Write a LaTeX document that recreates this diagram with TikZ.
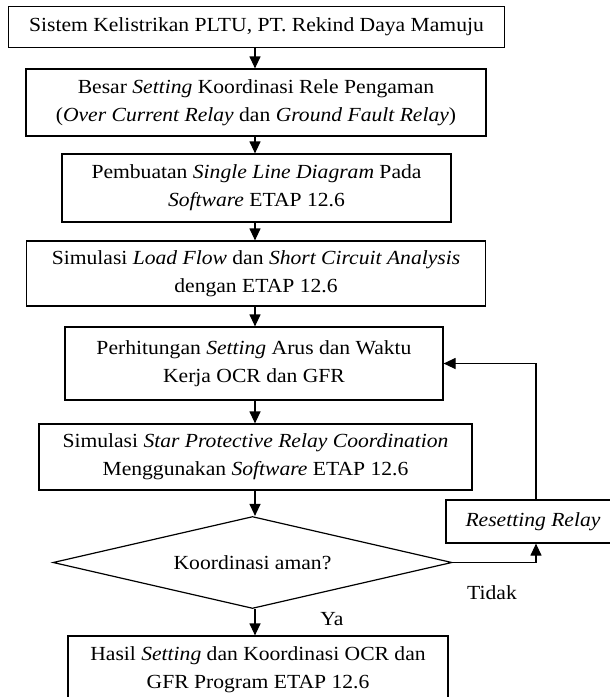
\documentclass[tikz,border=0pt]{standalone}
\usepackage{fontspec}
\setmainfont{Liberation Serif}[FakeStretch=1.08]
\usetikzlibrary{arrows.meta,shapes.geometric}
\tikzset{
  boxnode/.style={draw, line width=1.2pt, inner sep=0pt, align=center, font=\fontsize{20}{28}\selectfont},
  txt/.style={inner sep=0pt, font=\fontsize{20}{28}\selectfont},
  arr/.style={line width=1.2pt, -{Triangle[length=12pt,width=11pt]}},
  ln/.style={line width=1.2pt}
}
\begin{document}
\begin{tikzpicture}[x=1pt,y=-1pt]
\useasboundingbox (0,0) rectangle (610,697);
\clip (0,0) rectangle (610,697);
\node[boxnode, minimum width=496pt, minimum height=41pt] (b1) at (256.5,27.2) {Sistem Kelistrikan PLTU, PT. Rekind Daya Mamuju};
\node[boxnode, minimum width=460pt, minimum height=67pt] (b2) at (256,102.5) {Besar \textit{Setting} Koordinasi Rele Pengaman\\(\textit{Over Current Relay} dan \textit{Ground Fault Relay})};
\node[boxnode, minimum width=389pt, minimum height=68pt] (b3) at (256.5,188) {Pembuatan \textit{Single Line Diagram} Pada\\\textit{Software} ETAP 12.6};
\node[boxnode, minimum width=459pt, minimum height=65pt] (b4) at (256,273.5) {Simulasi \textit{Load Flow} dan \textit{Short Circuit Analysis}\\dengan ETAP 12.6};
\node[boxnode, minimum width=378pt, minimum height=73pt] (b5) at (254,363.5) {Perhitungan \textit{Setting} Arus dan Waktu\\Kerja OCR dan GFR};
\node[boxnode, minimum width=433pt, minimum height=66pt] (b6) at (255.5,457) {Simulasi \textit{Star Protective Relay Coordination}\\Menggunakan \textit{Software} ETAP 12.6};
\node[draw, line width=1.2pt, diamond, shape aspect=4.34, inner sep=0pt, minimum width=399pt, minimum height=92pt, font=\fontsize{20}{28}\selectfont] (d) at (252.5,562.5) {Koordinasi aman?};
\node[boxnode, minimum width=380pt, minimum height=67pt] (b7) at (258,669.5) {Hasil \textit{Setting} dan Koordinasi OCR dan\\GFR Program ETAP 12.6};
\node[boxnode, minimum width=174pt, minimum height=43pt] (rr) at (533,521.5) {\textit{Resetting Relay}};
\node[txt] (tidak) at (492,593) {Tidak};
\node[txt] (ya) at (332,619) {Ya};
\coordinate (vx) at (536,0);
\coordinate (cx) at (255,0);
\draw[arr] (b1.south -| cx) -- (b2.north -| cx);
\draw[arr] (b2.south -| cx) -- (b3.north -| cx);
\draw[arr] (b3.south -| cx) -- (b4.north -| cx);
\draw[arr] (b4.south -| cx) -- (b5.north -| cx);
\draw[arr] (b5.south -| cx) -- (b6.north -| cx);
\draw[arr] (b6.south -| cx) -- (d.north -| cx);
\draw[arr] (d.south -| cx) -- (b7.north -| cx);
\draw[arr] (d.east) -| (rr.south -| vx);
\draw[arr] (rr.north -| vx) |- (b5.east);
\end{tikzpicture}
\end{document}
